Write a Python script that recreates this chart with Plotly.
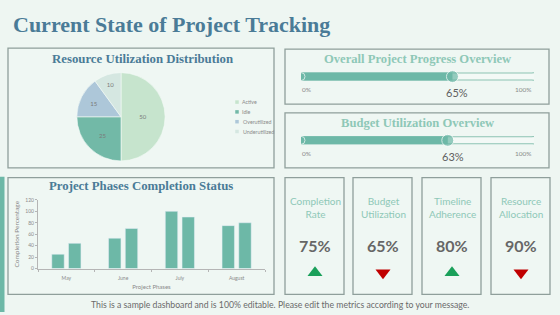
import plotly.graph_objects as go

W, H = 560, 315

# ---------------- data ----------------
pie_labels = ["Active", "Idle", "Overutilized", "Underutilized"]
pie_values = [50, 25, 15, 10]
pie_colors = ["#c6e4cd", "#72b9a7", "#adc7d9", "#d5e7e1"]

phases = ["May", "June", "July", "August"]
phase_a = [25, 53, 100, 75]
phase_b = [44, 70, 90, 80]
y_ticks = [0, 20, 40, 60, 80, 100, 120]

progress_titles = ["Overall Project Progress Overview", "Budget Utilization Overview"]
progress_values = [65, 63]

kpi_titles = ["Completion<br>Rate", "Budget<br>Utilization", "Timeline<br>Adherence", "Resource<br>Allocation"]
kpi_values = [75, 65, 80, 90]
kpi_trend = ["up", "down", "up", "down"]

# ---------------- styles ----------------
BG = "#eef6f2"
BORDER = "#8f9f9b"
TEAL = "#6db8a7"
DARK_HEAD = "#4a7b97"
LIGHT_HEAD = "#8ec8b7"
SERIF = "Liberation Serif"
SANS = "Lato"


def px(x):
    return x / W


def py(y):
    return 1 - y / H


fig = go.Figure()

# ---- bar chart ----
fig.add_trace(go.Bar(x=phases, y=phase_a, marker_color=TEAL, showlegend=False,
                     xaxis="x", yaxis="y"))
fig.add_trace(go.Bar(x=phases, y=phase_b, marker_color=TEAL, showlegend=False,
                     xaxis="x", yaxis="y"))

# ---- pie ----
cx, cy, r = 121, 116, 45
fig.add_trace(go.Pie(labels=pie_labels, values=pie_values, sort=False,
                     direction="clockwise",
                     marker=dict(colors=pie_colors, line=dict(color="#f4faf7", width=0.6)),
                     textinfo="value", textposition="inside",
                     insidetextorientation="horizontal",
                     textfont=dict(size=6, color="#7a7a7a", family=SANS),
                     domain=dict(x=[px(cx - r), px(cx + r)], y=[py(cy + r), py(cy - r)]),
                     showlegend=False, hoverinfo="label+value"))

# ---- progress bars ----
prog_axes = [("x2", "y2", 75), ("x3", "y3", 140)]
for (xa, ya, yc), val in zip(prog_axes, progress_values):
    fig.add_trace(go.Scatter(x=[0, 100], y=[0, 0], mode="lines+markers",
                             line=dict(color="#8cc3b3", width=8),
                             marker=dict(color="#8cc3b3", size=8),
                             xaxis=xa, yaxis=ya, showlegend=False, hoverinfo="skip"))
    fig.add_trace(go.Scatter(x=[0, 100], y=[0, 0], mode="lines+markers",
                             line=dict(color="#f3f9f6", width=6),
                             marker=dict(color="#f3f9f6", size=6),
                             xaxis=xa, yaxis=ya, showlegend=False, hoverinfo="skip"))
    fig.add_trace(go.Scatter(x=[0, val], y=[0, 0], mode="lines+markers",
                             line=dict(color=TEAL, width=8),
                             marker=dict(color=TEAL, size=[8, 12]),
                             xaxis=xa, yaxis=ya, showlegend=False, hoverinfo="x"))

# ---- overlay (pixel) axis for legend markers and KPI triangles ----
leg_x, leg_y0, leg_dy = 237, 101, 10
fig.add_trace(go.Scatter(x=[leg_x] * len(pie_labels),
                         y=[leg_y0 + i * leg_dy for i in range(len(pie_labels))],
                         mode="markers", marker=dict(color=pie_colors, size=3.5, symbol="square"),
                         xaxis="x4", yaxis="y4", showlegend=False, hoverinfo="skip"))

card_left = [285, 353, 422, 491]
card_w = 60
card_cx = [l + card_w / 2 for l in card_left]
fig.add_trace(go.Scatter(x=card_cx, y=[275] * 4, mode="markers",
                         marker=dict(symbol=["triangle-up" if t == "up" else "triangle-down" for t in kpi_trend],
                                     color=["#1aa05a" if t == "up" else "#c00000" for t in kpi_trend],
                                     size=13, line=dict(width=0)),
                         xaxis="x4", yaxis="y4", showlegend=False, hoverinfo="skip"))

# ---------------- shapes ----------------
shapes = []


def panel(x0, y0, x1, y1):
    shapes.append(dict(type="rect", xref="paper", yref="paper",
                       x0=px(x0), x1=px(x1), y0=py(y1), y1=py(y0),
                       line=dict(color=BORDER, width=1.3), fillcolor="#eff7f3", layer="below"))


panel(8, 46, 274, 168)
panel(285, 47, 549, 103)
panel(285, 112, 549, 168)
panel(8, 178, 274, 297)
for l in card_left:
    panel(l, 178, l + card_w - 1, 297)
shapes.append(dict(type="rect", xref="paper", yref="paper", x0=0, x1=px(4.5), y0=0, y1=py(177),
                   line=dict(width=0), fillcolor=TEAL, layer="below"))

# ---------------- annotations ----------------
ann = []


def text(x, y, t, size, color, family=SANS, xanchor="center", bold=False):
    ann.append(dict(x=px(x), y=py(y), xref="paper", yref="paper", text=("<b>%s</b>" % t) if bold else t,
                    showarrow=False, xanchor=xanchor, yanchor="middle",
                    font=dict(size=size, color=color, family=family)))


text(11, 22, "Current State of Project Tracking", 22, DARK_HEAD, SERIF, "left", True)
text(142, 57, "Resource Utilization Distribution", 12.8, DARK_HEAD, SERIF, bold=True)
text(141, 187, "Project Phases Completion Status", 12.8, DARK_HEAD, SERIF, bold=True)
text(418, 57, progress_titles[0], 12.6, LIGHT_HEAD, SERIF, bold=True)
text(418, 122, progress_titles[1], 12.6, LIGHT_HEAD, SERIF, bold=True)

for i, lab in enumerate(pie_labels):
    text(leg_x + 3.5, leg_y0 + i * leg_dy, lab, 5.3, "#8a8a8a", SANS, "left")

for (xa, ya, yc), val in zip(prog_axes, progress_values):
    text(300, yc + 13, "0%", 6.5, "#8a8a8a", SANS, "left")
    text(534, yc + 13, "100%", 6.5, "#8a8a8a", SANS, "right")
    text(301 + 233 * val / 100 + 5, yc + 16, "%d%%" % val, 11, "#606060", SANS)

for c, t, v in zip(card_cx, kpi_titles, kpi_values):
    text(c, 208, t, 10, LIGHT_HEAD, SANS)
    text(c, 247, "%d%%" % v, 16, "#666666", SANS, bold=True)

text(280, 307, "This is a sample dashboard and is 100% editable. Please edit the metrics according to your message.",
     8.7, "#6a6a6a", SANS)

# ---------------- layout ----------------
axis_font = dict(size=5, color="#8a8a8a", family=SANS)
fig.update_layout(
    width=W, height=H, margin=dict(l=0, r=0, t=0, b=0),
    paper_bgcolor=BG, plot_bgcolor="rgba(0,0,0,0)",
    barmode="group", bargap=0.41, bargroupgap=0.26,
    showlegend=False, shapes=shapes, annotations=ann,
    xaxis=dict(domain=[px(38), px(265)], showline=True, linecolor="#b5b5b5", linewidth=1,
               ticks="outside", tickson="boundaries", ticklen=2, tickcolor="#b5b5b5",
               tickfont=axis_font, showgrid=False, ticklabelstandoff=4,
               title=dict(text="Project Phases", font=dict(size=6, color="#8a8a8a", family=SANS), standoff=5)),
    yaxis=dict(domain=[py(270.7), py(200.7)], range=[0, 120], tickvals=y_ticks,
               showline=True, linecolor="#b5b5b5", linewidth=1, ticks="outside", ticklen=2,
               tickcolor="#b5b5b5", tickfont=axis_font, showgrid=False, zeroline=False,
               title=dict(text="Completion Percentage", font=dict(size=6.5, color="#8a8a8a", family=SANS), standoff=5)),
    xaxis2=dict(domain=[px(301), px(534)], range=[0, 100], visible=False, anchor="y2"),
    yaxis2=dict(domain=[py(85), py(65)], range=[-1, 1], visible=False, anchor="x2"),
    xaxis3=dict(domain=[px(301), px(534)], range=[0, 100], visible=False, anchor="y3"),
    yaxis3=dict(domain=[py(150), py(130)], range=[-1, 1], visible=False, anchor="x3"),
    xaxis4=dict(domain=[0, 1], range=[0, W], visible=False, anchor="y4"),
    yaxis4=dict(domain=[0, 1], range=[H, 0], visible=False, anchor="x4"),
)

fig.write_html("out.html")
